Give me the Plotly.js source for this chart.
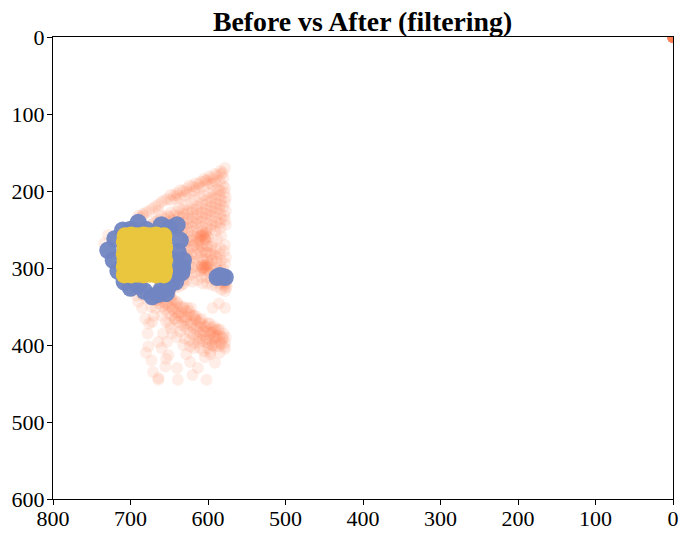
<!DOCTYPE html>
<html><head><meta charset="utf-8">
<script src="https://cdn.plot.ly/plotly-3.0.1.min.js"></script>
<style>html,body{margin:0;padding:0;background:#fff}</style></head>
<body><div id="chart" style="width:688px;height:538px"></div>
<script>
const cornerX=[0,0,0,0,0,0,0,0,0,0,0,0,0,0,0,0,0,0,0,0];
const cornerY=[0,0,0,0,0,0,0,0,0,0,0,0,0,0,0,0,0,0,0,0];
const rayX=[578,581,584,588,591,595,598,602,605,609,612,616,620,624,628,632,636,640,644,648,652,656,660,664,668,672,676,680,684,688,692,580,585,590,595,600,606,612,618,624,630,636,642,648,583,593,603,615,627,639];
const rayY=[170,176,174,180,178,183,181,186,184,188,191,190,194,193,197,200,199,203,206,205,210,212,214,218,220,223,226,228,232,234,238,183,187,189,191,190,194,197,200,203,206,209,210,212,178,186,187,195,201,206];
const wedgeX=[578,579,577,578,580,577,579,578,577,584,585,583,584,586,584,583,585,584,590,591,589,590,592,590,589,591,590,596,597,595,596,598,596,595,597,602,603,601,602,604,602,601,603,602,604,608,609,607,608,610,608,607,609,608,610,614,615,613,614,616,614,613,615,614,620,621,619,620,622,620,619,621,626,627,625,626,628,626,625,627,626,632,633,631,632,634,632,638,639,637,638,640,644,646,643,650,652,655,658,664,670,606,604,610,612,600,603];
const wedgeY=[196,202,208,214,220,226,232,238,244,200,206,212,218,224,230,236,242,248,205,210,216,222,228,234,240,246,252,209,214,220,226,232,238,244,250,212,218,224,230,236,242,248,254,258,262,216,222,228,234,240,246,252,258,260,264,220,224,230,236,242,248,254,260,266,224,228,234,240,246,252,258,264,226,230,236,242,248,254,260,266,272,230,234,240,246,252,258,232,236,242,248,254,232,238,244,234,240,236,242,238,240,258,262,258,262,260,256];
const streakX=[578,579,577,578,580,577,578,579,576,577,578,584,585,583,584,586,584,585,583,590,591,589,590,592,590,589,596,597,595,596,598,596,595,602,603,601,602,604,602,601,608,609,607,608,610,608,607,614,615,613,614,616,614,620,621,619,620,622,620,626,627,625,626,628,632,633,631,632,634,638,639,637,638,644,645,643,650,652,649,604,606,602,600,608,598];
const streakY=[270,278,286,294,302,310,318,322,324,326,352,274,282,290,298,304,312,320,328,276,284,292,300,308,316,324,272,282,290,298,306,314,322,270,280,288,296,304,312,320,272,280,288,296,304,312,320,274,282,290,298,306,316,272,282,292,300,308,318,276,286,296,306,316,284,294,304,314,322,292,302,312,324,300,310,322,316,326,332,298,300,300,298,302,296];
const bandX=[578,579,577,581,583,580,584,586,585,588,590,589,592,594,591,596,598,595,600,602,599,604,606,603,608,610,607,612,614,611,616,618,615,620,622,619,624,626,623,628,630,627,632,634,631,636,638,635,640,642,639,644,646,643,648,650,647,652,654,651,656,658,655,660,662,659,664,666,663,668,670,675,680,585,592,600,608,616,624,632,640,648,656,664,590,598,606,614,622,630,638,646,654,662,594,602,610,618,626];
const bandY=[397,402,390,392,399,385,396,402,388,388,396,380,392,400,382,384,394,378,382,392,398,376,388,396,372,384,394,370,382,392,366,378,390,362,374,386,360,372,384,356,368,380,352,364,376,350,362,374,346,358,370,342,354,366,340,350,362,336,348,358,334,344,354,330,340,350,326,336,346,332,342,338,332,380,376,372,366,362,356,350,344,338,334,328,390,386,382,376,370,364,358,352,346,340,384,376,368,362,352];
const looseX=[578,585,591,597,604,613,620,623,628,602,639,640,651,655,664,664,671,673,677,678,681,658,653,623,685,690,672,668,650,646,640,632,591,597,610,618,586,594,729,722,734,716,708,703,690,684,664,660,652];
const looseY=[405,410,423,409,416,430,439,402,412,445,445,430,413,428,443,445,435,420,402,385,366,385,396,422,352,344,370,352,372,385,390,400,402,412,404,398,346,352,257,262,268,290,300,326,232,230,226,232,300];
const extraX=[637,641,648,652,633,629,622,617,611,605,599,593,587,581,643,649,655,661,667,673,635,629,618,612,606,600,594,588,583,645,651,657,663,640,634,627,621,612,606,601,594,589,631,637,643,649,655,661,667,673,679,685,646,640,634,628,622,616,610,604,598,592,587,581,660,654,648,642,636,630,624,618,612,606,600,594,606,604,602,608,600,606,603,577,579,578,670,676,664,680,686,692,698,660,654];
const extraY=[222,227,228,232,224,218,216,211,208,206,203,200,198,193,252,247,250,246,240,244,262,268,270,268,276,272,268,262,258,275,282,264,258,286,278,282,286,276,290,280,282,286,320,312,326,318,328,338,342,350,340,335,345,352,358,364,352,368,376,382,372,388,380,390,362,370,378,366,382,392,394,404,396,408,404,400,300,296,302,298,294,256,264,320,318,330,362,372,396,410,318,336,330,404,418];
const midX=[729,720,710,700,690,680,660,650,640,636,639,633,641,648,722,716,708,700,690,682,672,664,654,588,582,578,585,642,648,652,660,632,634];
const midY=[277,262,251,250,241,250,244,248,244,264,279,300,308,288,290,304,318,326,322,330,337,334,333,312,311,312,310,318,320,326,328,290,306];
const topX=[707,699,691,683,675,667,657,708,707,708,707,708,707,657,656,657,656,657,656,699,691,683,675,667,657,708,698,690,682,674,666,698,690,682,674,666,698,690,682,674,666,698,690,682,674,666];
const topY=[258,257,258,257,258,257,258,266,274,282,290,298,305,266,274,282,290,298,304,309,308,309,308,309,309,309,268,268,268,268,268,278,278,278,278,278,288,288,288,288,288,298,298,298,298,298];
const titleText='Before vs After (filtering)';
const tickX=[800,700,600,500,400,300,200,100,0];
const tickY=[0,100,200,300,400,500,600];
const rawX=[].concat(cornerX,rayX,wedgeX,streakX,bandX,looseX,extraX);
const rawY=[].concat(cornerY,rayY,wedgeY,streakY,bandY,looseY,extraY);
const traces=[
 {x:rawX,y:rawY,mode:'markers',type:'scatter',marker:{size:12,color:'#FF7F50',opacity:0.13,line:{width:0}}},
 {x:midX,y:midY,mode:'markers',type:'scatter',marker:{size:17.5,color:'#7085C2',opacity:0.95,line:{width:0}}},
 {x:topX,y:topY,mode:'markers',type:'scatter',marker:{size:17,color:'#E9C63E',opacity:1,line:{width:0}}}
];
const layout={width:688,height:538,showlegend:false,paper_bgcolor:'#fff',plot_bgcolor:'#fff',
 font:{family:'"Liberation Serif","Times New Roman",serif',color:'#000',size:22},
 margin:{l:53,r:15,t:37,b:39},
 title:{text:'<b>'+titleText+'</b>',font:{size:27.8,color:'#000'},x:0.527,xanchor:'center',y:0.96,yanchor:'middle',pad:{b:2}},
 xaxis:{range:[800,0],tickvals:tickX,ticks:'outside',ticklen:5,tickwidth:1,tickcolor:'#000',showline:true,linecolor:'#000',linewidth:1,mirror:true,showgrid:false,zeroline:false,tickfont:{size:22},ticklabelstandoff:-5},
 yaxis:{range:[600,0],tickvals:tickY,ticks:'outside',ticklen:5,tickwidth:1,tickcolor:'#000',showline:true,linecolor:'#000',linewidth:1,mirror:true,showgrid:false,zeroline:false,tickfont:{size:22},ticklabelstandoff:-2}
};
Plotly.newPlot('chart',traces,layout,{displayModeBar:false,staticPlot:true});
</script></body></html>
